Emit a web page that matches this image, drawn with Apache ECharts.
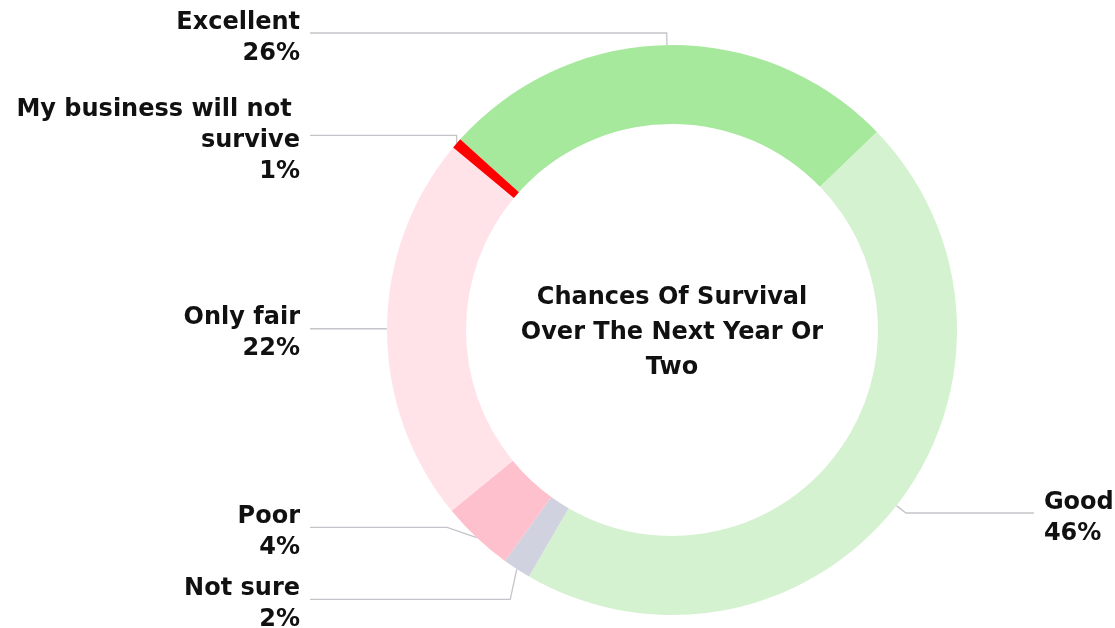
<!DOCTYPE html>
<html>
<head>
<meta charset="utf-8">
<script src="https://cdn.jsdelivr.net/npm/echarts@6/dist/echarts.min.js"></script>
<style>
  html, body { margin: 0; padding: 0; background: #fff; }
  #chart { width: 1115px; height: 628px; }
</style>
</head>
<body>
<div id="chart"></div>
<script>
// categories, clockwise from the top-left
const categories = ['Excellent', 'Good', 'Not sure', 'Poor', 'Only fair', 'My business will not survive']
// share of answers (%)
const shares = [26.1, 45.6, 1.6, 4.1, 22.0, 0.6]
const colors = ['#a6e89c', '#d4f2cf', '#d0d3df', '#ffc0cd', '#ffe3e9', '#ff0000']
const centerTitle = 'Chances Of Survival\nOver The Next Year Or\nTwo'

const FONT = 'DejaVu Sans'
const PIE_CENTER = [672, 330]
const LEFT_LINE_END = 310 // left labels all end their leader lines here
const LABEL_GAP = 10
const TEXT_DROP = 5 // text sits a little below its leader line
// small vertical nudges: top label hugs the edge, bottom two share their room
const labelNudge = { 'Excellent': -3, 'Poor': -19, 'Not sure': -19 }

const chart = echarts.init(document.getElementById('chart'))

const seriesData = categories.map((name, i) => {
  const item = { name: name, value: shares[i], itemStyle: { color: colors[i] } }
  // the one label on the right side sits further out
  if (name === 'Good') {
    item.labelLine = { length2: 128 }
  }
  return item
})

const option = {
  animation: false,
  backgroundColor: '#fff',
  title: {
    text: centerTitle,
    left: PIE_CENTER[0],
    top: 280,
    padding: 0,
    textAlign: 'center',
    textStyle: {
      fontFamily: FONT,
      fontSize: 24,
      fontWeight: 'bold',
      lineHeight: 35,
      color: '#111'
    }
  },
  series: [
    {
      type: 'pie',
      left: 0,
      top: 0,
      right: 0,
      bottom: -30,
      center: PIE_CENTER,
      radius: [206, 285],
      startAngle: 138,
      clockwise: true,
      avoidLabelOverlap: true,
      data: seriesData,
      label: {
        show: true,
        position: 'outside',
        distanceToLabelLine: LABEL_GAP,
        width: 290,
        overflow: 'break',
        padding: [4, 0],
        fontFamily: FONT,
        fontSize: 24,
        fontWeight: 'bold',
        lineHeight: 31,
        color: '#111',
        formatter: p => p.name + '\n' + Math.round(p.percent) + '%'
      },
      labelLine: {
        show: true,
        length: 12,
        length2: 63,
        lineStyle: { color: '#c4c4ca', width: 1.3 }
      },
      labelLayout: function (params) {
        const pts = params.labelLinePoints
        if (!pts) return {}
        const shift = labelNudge[categories[params.dataIndex]] || 0
        const p = pts.map(q => q.slice())
        p[1][1] += shift
        p[2][1] += shift
        const out = { dy: shift + TEXT_DROP, labelLinePoints: p }
        if (p[2][0] < PIE_CENTER[0]) {
          // left side: right-align every label against one common line end
          p[2][0] = LEFT_LINE_END
          out.x = LEFT_LINE_END - LABEL_GAP
          out.align = 'right'
        }
        return out
      },
      emphasis: { disabled: true }
    }
  ]
}

chart.setOption(option)
</script>
</body>
</html>
